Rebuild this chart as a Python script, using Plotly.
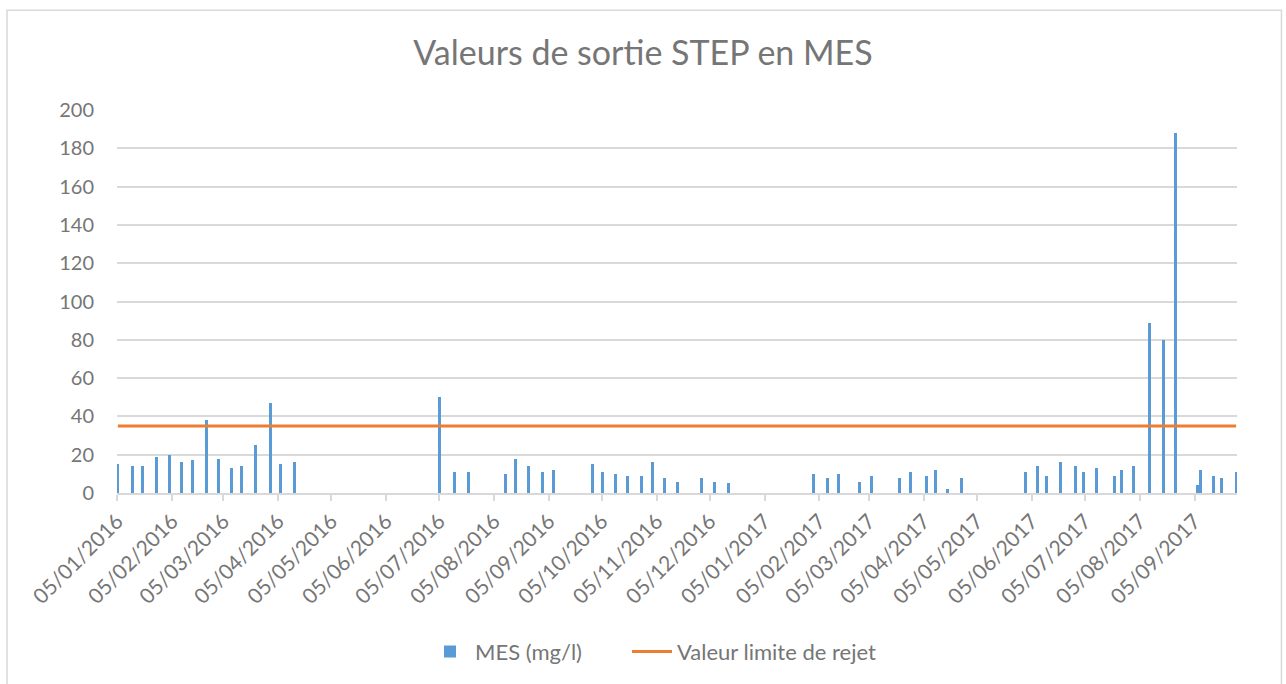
import plotly.graph_objects as go

# ---- data ----
dates = [
    "2016-01-05", "2016-01-13", "2016-01-19", "2016-01-27", "2016-02-03", "2016-02-10",
    "2016-02-16", "2016-02-24", "2016-03-02", "2016-03-09", "2016-03-15", "2016-03-23",
    "2016-03-31", "2016-04-06", "2016-04-14",
    "2016-07-05", "2016-07-13", "2016-07-21", "2016-08-11", "2016-08-17", "2016-08-24",
    "2016-09-01", "2016-09-07", "2016-09-29", "2016-10-05", "2016-10-12", "2016-10-19",
    "2016-10-27", "2016-11-02", "2016-11-09", "2016-11-16", "2016-11-30", "2016-12-07",
    "2016-12-15",
    "2017-02-01", "2017-02-09", "2017-02-15", "2017-02-27", "2017-03-06", "2017-03-22",
    "2017-03-28", "2017-04-06", "2017-04-11", "2017-04-18", "2017-04-26",
    "2017-06-01", "2017-06-08", "2017-06-13", "2017-06-21", "2017-06-29", "2017-07-04",
    "2017-07-11", "2017-07-21", "2017-07-25", "2017-08-01", "2017-08-10", "2017-08-18",
    "2017-08-25", "2017-09-06", "2017-09-08", "2017-09-15", "2017-09-20", "2017-09-28",
]
mes_values = [
    15, 14, 14, 19, 20, 16, 17, 38, 18, 13, 14, 25, 47, 15, 16,
    50, 11, 11, 10, 18, 14, 11, 12, 15, 11, 10, 9, 9, 16, 8, 6, 8, 6, 5,
    10, 8, 10, 6, 9, 8, 11, 9, 12, 2, 8,
    11, 14, 9, 16, 14, 11, 13, 9, 12, 14, 89, 80, 188, 4, 12, 9, 8, 11,
]
limit_value = 35
limit_values = [limit_value] * len(dates)

tick_dates = [
    "2016-01-05", "2016-02-05", "2016-03-05", "2016-04-05", "2016-05-05", "2016-06-05",
    "2016-07-05", "2016-08-05", "2016-09-05", "2016-10-05", "2016-11-05", "2016-12-05",
    "2017-01-05", "2017-02-05", "2017-03-05", "2017-04-05", "2017-05-05", "2017-06-05",
    "2017-07-05", "2017-08-05", "2017-09-05",
]
tick_labels = [
    "05/01/2016", "05/02/2016", "05/03/2016", "05/04/2016", "05/05/2016", "05/06/2016",
    "05/07/2016", "05/08/2016", "05/09/2016", "05/10/2016", "05/11/2016", "05/12/2016",
    "05/01/2017", "05/02/2017", "05/03/2017", "05/04/2017", "05/05/2017", "05/06/2017",
    "05/07/2017", "05/08/2017", "05/09/2017",
]
x_range = ["2016-01-05", "2017-09-29"]

DAY_MS = 86400000
FONT = "Lato"
TXT = "#767676"
GRID = "#d9d9d9"

fig = go.Figure()
fig.add_trace(go.Bar(
    x=dates, y=mes_values, name="MES (mg/l)",
    xperiod=DAY_MS, xperiodalignment="middle",
    width=1.7 * DAY_MS,
    marker=dict(color="#5B9BD5", line=dict(width=0)),
    legend="legend",
))
fig.add_trace(go.Scatter(
    x=dates, y=limit_values, name="Valeur limite de rejet",
    mode="lines", line=dict(color="#ED7D31", width=3),
    xperiod=DAY_MS, xperiodalignment="middle",
    legend="legend2",
))

leg_common = dict(orientation="h", y=-0.411, yanchor="middle", xanchor="left",
                  font=dict(family=FONT, size=22, color=TXT), itemwidth=40,
                  bgcolor="rgba(0,0,0,0)")

fig.update_layout(
    width=1286, height=684,
    margin=dict(l=117, r=49, t=110, b=190),
    paper_bgcolor="white", plot_bgcolor="white",
    font=dict(family=FONT, color=TXT, size=20),
    title=dict(text="Valeurs de sortie STEP en MES", x=0.5, xanchor="center",
               y=1 - 53 / 684, yanchor="middle",
               font=dict(family=FONT, size=34, color=TXT)),
    showlegend=True,
    legend=dict(x=(425 - 117) / 1120, **leg_common),
    legend2=dict(x=(627 - 117) / 1120, **leg_common),
    bargap=0,
    shapes=[dict(type="rect", xref="paper", yref="paper",
                 x0=-0.0982, x1=1.0397, y0=-0.6, y1=1.2604,
                 line=dict(color=GRID, width=1.5), fillcolor="rgba(0,0,0,0)", layer="below")],
)
fig.update_xaxes(
    type="date", range=x_range, automargin=False,
    tickmode="array", tickvals=tick_dates, ticktext=tick_labels,
    tickangle=-45, tickfont=dict(family=FONT, size=21, color=TXT),
    showgrid=False, showline=True, linecolor=GRID, linewidth=1.5,
    ticks="outside", ticklen=6, tickcolor=GRID, tickwidth=1.5,
    zeroline=False,
)
fig.update_yaxes(
    range=[0, 200], dtick=20, tick0=0, automargin=False,
    showgrid=True, gridcolor=GRID, gridwidth=1.5,
    zeroline=False, showline=False, ticks="",
    tickfont=dict(family=FONT, size=20, color=TXT),
    ticklabelstandoff=22,
)

fig.write_html("out.html", config={"displayModeBar": False},
               post_script="document.body.style.margin='0';")
